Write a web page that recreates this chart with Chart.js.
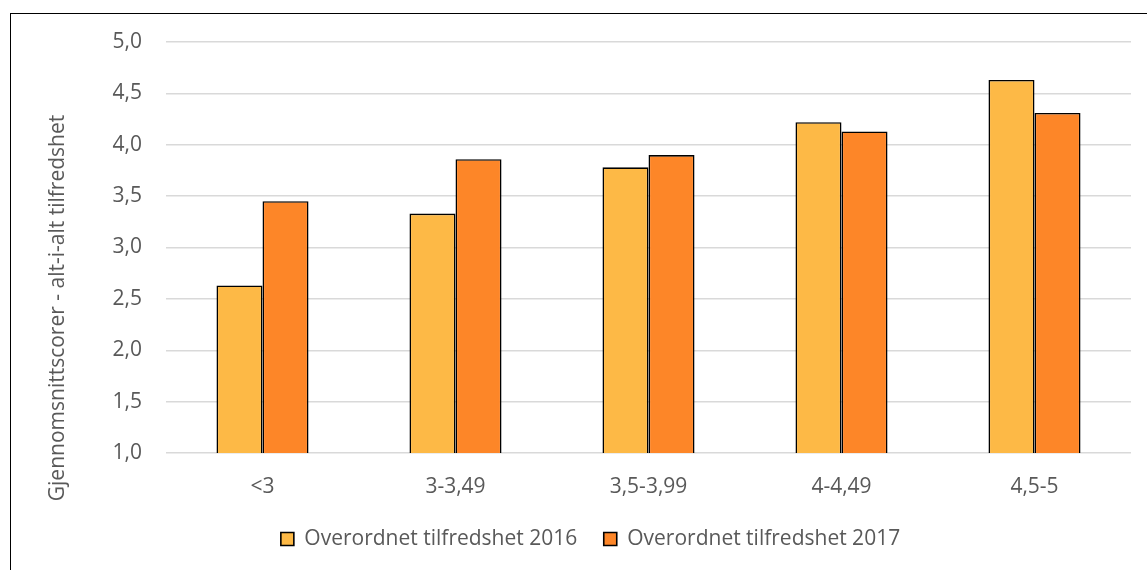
<!DOCTYPE html>
<html>
<head>
<meta charset="utf-8">
<script src="https://cdn.jsdelivr.net/npm/chart.js@4/dist/chart.umd.min.js"></script>
<style>
  html, body { margin: 0; padding: 0; background: #fff; overflow: hidden; }
  #wrap { position: relative; width: 1147px; height: 570px; }
  #frame { position: absolute; left: 10px; top: 12.5px; width: 2000px; height: 2000px; border: 1.6px solid #000; }
  #chartCanvas { position: absolute; left: 0; top: 0; }
</style>
</head>
<body>
<div id="wrap">
  <div id="frame"></div>
  <canvas id="chartCanvas" width="1147" height="570"></canvas>
</div>
<script>
const categories = ['<3', '3-3,49', '3,5-3,99', '4-4,49', '4,5-5'];
const seriesNames = ['Overordnet tilfredshet 2016', 'Overordnet tilfredshet 2017'];
const values2016 = [2.63, 3.33, 3.78, 4.22, 4.63];
const values2017 = [3.45, 3.86, 3.90, 4.13, 4.31];
const yTitle = 'Gjennomsnittscorer - alt-i-alt tilfredshet';

const textColor = '#595959';
const fontFamily = '"Open Sans", Lato, sans-serif';
const fontSize = 21;

// y-axis title is centred on the whole chart, like the original, so draw it by hand
const yTitlePlugin = {
  id: 'yTitle',
  afterLayout(chart) {
    // legend sits a bit right of the canvas centre in the original
    chart.legend.left += 25;
    chart.legend.right += 25;
    chart.legend.top += 2;
    chart.legend.bottom += 2;
  },
  afterDraw(chart) {
    const ctx = chart.ctx;
    ctx.save();
    ctx.translate(58, 308);
    ctx.rotate(-Math.PI / 2);
    ctx.font = fontSize + 'px ' + fontFamily;
    ctx.fillStyle = textColor;
    ctx.textAlign = 'center';
    ctx.textBaseline = 'middle';
    ctx.fillText(yTitle, 0, 0);
    ctx.restore();
  }
};

const ctx = document.getElementById('chartCanvas').getContext('2d');
const chart = new Chart(ctx, {
  type: 'bar',
  data: {
    labels: categories,
    datasets: [
      {
        label: seriesNames[0],
        data: values2016,
        backgroundColor: '#FDB946',
        borderColor: '#000',
        borderWidth: 1.6
      },
      {
        label: seriesNames[1],
        data: values2017,
        backgroundColor: '#FD8628',
        borderColor: '#000',
        borderWidth: 1.6
      }
    ]
  },
  options: {
    responsive: false,
    animation: false,
    layout: { padding: { left: 0, right: 16, top: 42, bottom: 12.5 } },
    datasets: { bar: { barPercentage: 1, categoryPercentage: 0.477 } },
    plugins: {
      tooltip: { enabled: false },
      legend: {
        position: 'bottom',
        labels: {
          boxWidth: 13,
          boxHeight: 13,
          padding: 26.5,
          color: textColor,
          font: { family: fontFamily, size: fontSize }
        }
      }
    },
    scales: {
      x: {
        grid: { display: false },
        border: { display: false },
        ticks: {
          color: textColor,
          padding: 13,
          font: { family: fontFamily, size: fontSize }
        },
        afterFit(scale) { scale.height = 47; }
      },
      y: {
        min: 1,
        max: 5,
        border: { display: false },
        grid: { color: '#D9D9D9', lineWidth: 1.4, drawTicks: false },
        ticks: {
          stepSize: 0.5,
          color: textColor,
          padding: 24,
          font: { family: fontFamily, size: fontSize },
          callback: v => v.toFixed(1).replace('.', ',')
        },
        afterFit(scale) { scale.width = 166; }
      }
    }
  },
  plugins: [yTitlePlugin]
});
</script>
</body>
</html>
